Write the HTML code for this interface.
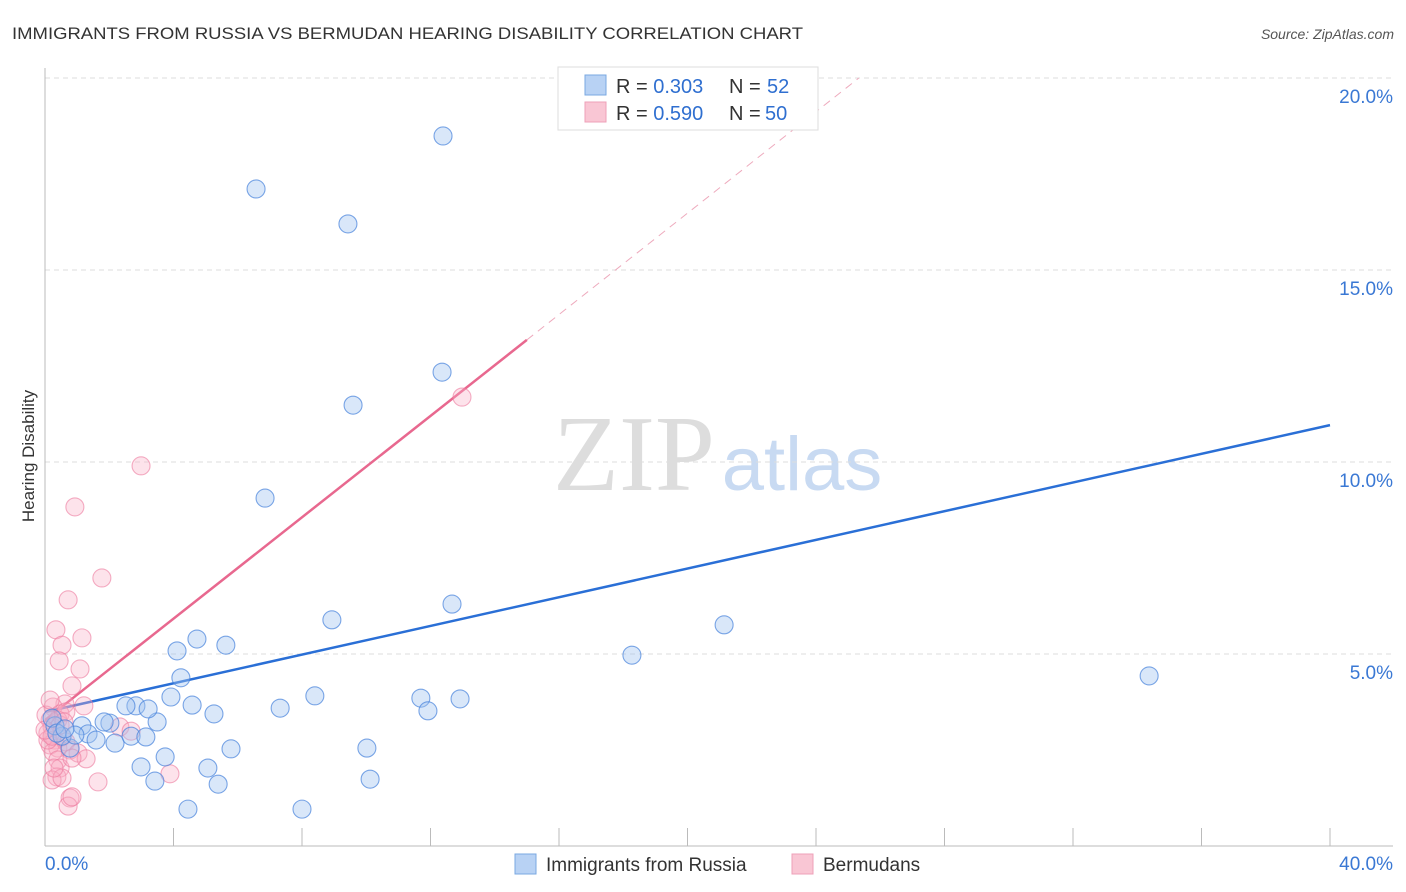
<!DOCTYPE html>
<html><head><meta charset="utf-8"><style>
body{margin:0;background:#fff;font-family:"Liberation Sans",sans-serif}
svg{display:block}
</style></head><body>
<svg id="chart" width="1406" height="892">
<text x="12" y="39" font-size="17" fill="#333" textLength="791" lengthAdjust="spacingAndGlyphs">IMMIGRANTS FROM RUSSIA VS BERMUDAN HEARING DISABILITY CORRELATION CHART</text>
<text x="1394" y="39" font-size="14" fill="#555" font-style="italic" text-anchor="end">Source: ZipAtlas.com</text>
<text transform="translate(34,456) rotate(-90)" font-size="17" fill="#333" text-anchor="middle">Hearing Disability</text>
<g>
<text x="634" y="490" font-size="108" font-family="Liberation Serif,serif" fill="#ddd" text-anchor="middle">ZIP</text>
<text x="802" y="490" font-size="76" fill="#c8daf2" text-anchor="middle">atlas</text>
</g>
<g id="grid"></g><g id="axes"></g><g id="trend"></g><g id="pts"></g>
<g>
<rect x="558" y="67" width="260" height="63" fill="#fff" stroke="#ddd"/>
<rect x="585" y="75" width="21" height="20" fill="#b8d2f4" stroke="#7aa8e2"/>
<rect x="585" y="102" width="21" height="20" fill="#f9c6d4" stroke="#eea0b8"/>
<text x="616" y="93" font-size="20" fill="#333">R = <tspan fill="#2f6fd0">0.303</tspan><tspan x="729">N = </tspan><tspan x="767" fill="#2f6fd0">52</tspan></text>
<text x="616" y="120" font-size="20" fill="#333">R = <tspan fill="#2f6fd0">0.590</tspan><tspan x="729">N = </tspan><tspan x="765" fill="#2f6fd0">50</tspan></text>
</g>
<g>
<rect x="515" y="854" width="21" height="20" fill="#b8d2f4" stroke="#7aa8e2"/>
<text x="546" y="871" font-size="19" fill="#333">Immigrants from Russia</text>
<rect x="792" y="854" width="21" height="20" fill="#f9c6d4" stroke="#eea0b8"/>
<text x="823" y="871" font-size="19" fill="#333">Bermudans</text>
</g>
</svg>
<script>
const blueX=[12.39,6.57,9.43,12.36,9.59,6.85,12.67,8.93,21.14,18.27,34.37,4.73,5.63,4.11,4.23,3.92,4.58,8.40,7.32,11.70,12.92,11.92,5.26,3.49,2.83,2.52,3.21,2.02,1.84,1.15,1.34,1.59,2.18,2.68,3.14,3.74,5.79,10.02,2.99,5.07,3.42,5.39,10.12,4.45,8.00,0.78,0.53,0.31,0.22,0.93,0.37,0.62];
const blueY=[18.49,17.11,16.20,12.34,11.48,9.06,6.30,5.89,5.76,4.97,4.43,5.39,5.23,5.08,4.38,3.88,3.67,3.91,3.59,3.85,3.83,3.52,3.44,3.23,3.65,3.65,3.57,3.20,3.23,3.13,2.92,2.76,2.68,2.86,2.84,2.32,2.53,2.55,2.06,2.03,1.69,1.61,1.74,0.96,0.96,2.55,2.86,3.13,3.33,2.89,2.94,3.05];
const pinkX=[12.98,2.99,0.93,1.77,0.72,0.34,0.53,1.15,0.44,1.09,0.84,0.62,1.21,0.25,0.47,0.16,0.40,0.22,0.09,0.31,0.53,0.16,0.40,0.65,0.78,1.03,1.28,2.33,2.68,0.25,0.40,0.47,0.37,0.22,0.53,0.78,0.72,0.84,1.65,3.89,0.09,0.22,0.47,0.03,0.00,0.65,0.84,0.28,0.16,0.59];
const pinkY=[11.69,9.90,8.83,6.98,6.41,5.63,5.23,5.42,4.82,4.61,4.17,3.70,3.65,3.62,3.44,3.28,3.28,3.10,2.94,2.76,2.84,2.63,2.55,2.71,2.50,2.42,2.27,3.10,2.99,2.45,2.24,2.03,1.80,1.72,1.77,1.25,1.04,1.28,1.67,1.88,2.76,2.86,3.15,3.41,3.02,3.49,2.29,2.03,3.80,3.23];
const blueTrend=[3.49,10.96];
const pinkTrend=[3.28,0.66];
const yTicks=[5,10,15,20];
const yTickLabels=["5.0%","10.0%","15.0%","20.0%"];
const xTicks=[4,8,12,16,20,24,28,32,36,40];

const NS="http://www.w3.org/2000/svg";
const X=v=>45+v/40*1285, Y=v=>846-v/5*192;
function mk(tag,attrs,parent){const e=document.createElementNS(NS,tag);for(const k in attrs)e.setAttribute(k,attrs[k]);document.getElementById(parent).appendChild(e);return e;}
yTicks.forEach((t,i)=>{
 const g=mk('line',{x1:45,x2:1393,y1:Y(t),y2:Y(t),stroke:'#ddd','stroke-dasharray':'5,4'},'grid');
 
 
 const l=mk('text',{x:1393,y:Y(t)+25,'font-size':19,fill:'#3a78d4','text-anchor':'end'},'grid');
 l.textContent=yTickLabels[i];
 
 
});
const ax=mk('line',{x1:45,x2:45,y1:68,y2:846,stroke:'#bbb'},'axes');


const bx=mk('line',{x1:45,x2:1393,y1:846,y2:846,stroke:'#bbb'},'axes');


xTicks.forEach(t=>{
 const e=mk('line',{x1:X(t),x2:X(t),y1:828,y2:846,stroke:'#bbb'},'axes');
 
 
});
const x0=mk('text',{x:45,y:870,'font-size':19,fill:'#3a78d4'},'axes');x0.textContent='0.0%';


const x1=mk('text',{x:1393,y:870,'font-size':19,fill:'#3a78d4','text-anchor':'end'},'axes');x1.textContent='40.0%';


const bt=mk('line',{x1:X(0),y1:Y(blueTrend[0]),x2:X(40),y2:Y(blueTrend[1]),stroke:'#2a6fd6','stroke-width':2.5},'trend');


const pEnd=15, pDash=(20-pinkTrend[0])/pinkTrend[1];
const pt=mk('line',{x1:X(0),y1:Y(pinkTrend[0]),x2:X(pEnd),y2:Y(pinkTrend[0]+pinkTrend[1]*pEnd),stroke:'#e8688f','stroke-width':2.5},'trend');


const pd=mk('line',{x1:X(pEnd),y1:Y(pinkTrend[0]+pinkTrend[1]*pEnd),x2:X(pDash),y2:Y(20),stroke:'#eeaabd','stroke-width':1,'stroke-dasharray':'8,6'},'trend');


pinkX.forEach((v,i)=>{
 const c=mk('circle',{cx:X(v),cy:Y(pinkY[i]),r:9,fill:'rgba(248,176,198,0.35)',stroke:'rgba(236,120,156,0.6)','stroke-width':1.1},'pts');
 
 
});
blueX.forEach((v,i)=>{
 const c=mk('circle',{cx:X(v),cy:Y(blueY[i]),r:9,fill:'rgba(160,196,240,0.4)',stroke:'rgba(70,130,220,0.7)','stroke-width':1.1},'pts');
 
 
});
</script>
</body></html>
